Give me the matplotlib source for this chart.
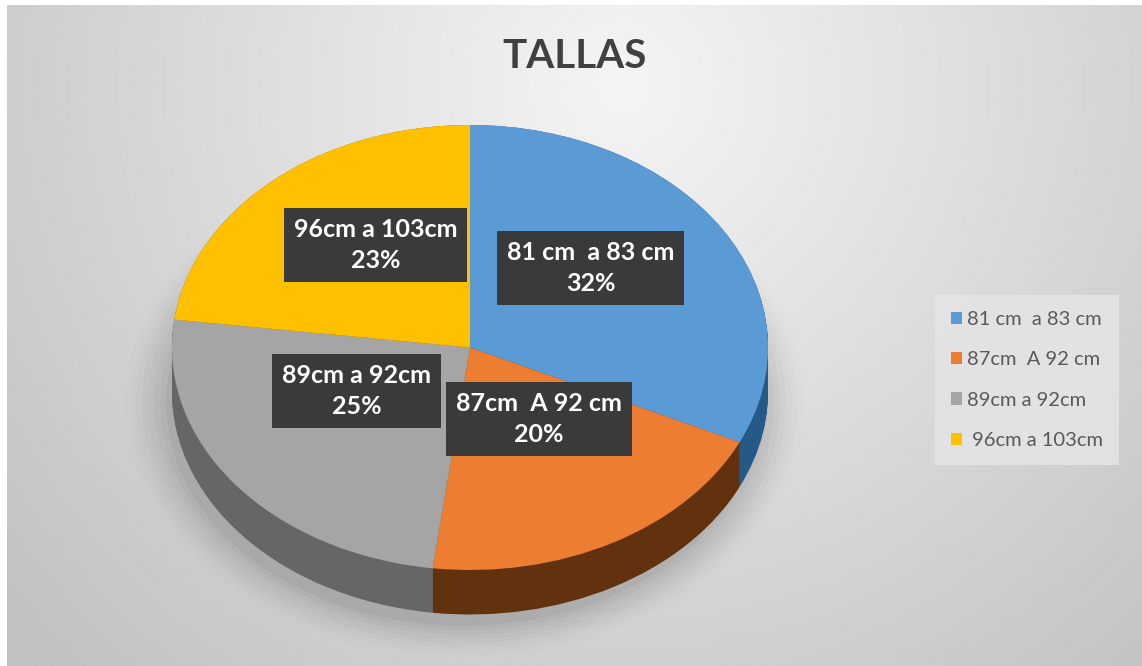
import numpy as np
import matplotlib
matplotlib.use("Agg")
import matplotlib.pyplot as plt

# ==========================================
# DATI
# ==========================================
etichette_box = ["81 cm  a 83 cm", "87cm  A 92 cm", "89cm a 92cm", "96cm a 103cm"]
legenda = ["81 cm  a 83 cm", "87cm  A 92 cm", "89cm a 92cm", " 96cm a 103cm"]
percentuali = [32, 20, 25, 23]
titolo = "TALLAS"

colori_top = ["#5b9bd5", "#ed7d31", "#a5a5a5", "#ffc000"]
colori_lato = ["#255a88", "#62320f", "#666666", "#8a6a00"]

plt.rcParams["font.family"] = ["Lato", "DejaVu Sans"]

W, H = 1142, 666
fig = plt.figure(figsize=(W / 100, H / 100), dpi=100, facecolor="white")

# ==========================================
# SFONDO A GRADIENTE RADIALE
# ==========================================
bg = fig.add_axes([7 / W, 0, 1 - 7 / W, 1 - 5 / H])
yy, xx = np.mgrid[0:H, 0:W]
dist = np.sqrt((xx - 620) ** 2 + (yy - 80) ** 2)
grad = 244 - 50 * np.clip(dist / 800, 0, 1)
bg.imshow(grad, cmap="gray", vmin=0, vmax=255, aspect="auto",
          extent=[0, W, H, 0], interpolation="bilinear")
bg.set_xlim(0, W)
bg.set_ylim(H, 0)
bg.axis("off")

# ==========================================
# TORTA 3D (ellisse + spessore)
# ==========================================
px_x0, px_w = 172, 596          # estensione orizzontale ellisse
px_top, b_px = 125, 222.5       # bordo alto e semiasse verticale
depth = 0.2                      # spessore in unita' del semiasse
y_min = -1 - depth - 0.15
ax_h_px = (1 - y_min) * b_px
ax = fig.add_axes([px_x0 / W, 1 - (px_top + ax_h_px) / H, px_w / W, ax_h_px / H])

# ombra morbida sotto la torta
for i, a in enumerate(np.linspace(0.035, 0.008, 8)):
    r = 1.0 + i * 0.02
    ax.pie([1], colors=["#000000"], radius=r, center=(-0.02, -depth - 0.05),
           wedgeprops=dict(alpha=a, linewidth=0))

# spessore: tante fette impilate
for t in np.linspace(depth, 0.0, 40):
    ax.pie(percentuali, colors=colori_lato, startangle=90, counterclock=False,
           center=(0, -t), wedgeprops=dict(linewidth=0))

wedges, _ = ax.pie(percentuali, colors=colori_top, startangle=90, counterclock=False,
                   center=(0, 0), wedgeprops=dict(linewidth=0))
ax.set_aspect("auto")
ax.set_xlim(-1, 1)
ax.set_ylim(y_min, 1)
ax.axis("off")

# etichette dati nei riquadri scuri
for w, lab, p in zip(wedges, etichette_box, percentuali):
    ang = np.deg2rad((w.theta1 + w.theta2) / 2)
    xl, yl = 0.48 * np.cos(ang), 0.48 * np.sin(ang) + 0.1
    ax.text(xl, yl, f"{lab}\n{p}%", ha="center", va="center", color="white",
            fontsize=18, fontweight="bold", linespacing=1.4,
            bbox=dict(boxstyle="square,pad=0.4", fc="#3a3a3a", ec="none"))

# ==========================================
# TITOLO E LEGENDA
# ==========================================
fig.text(575 / W, 1 - 56 / H, titolo, ha="center", va="center",
         fontsize=29, fontweight="bold", color="#404040")

leg = fig.legend(wedges, legenda, loc="center left",
                 bbox_to_anchor=(935 / W, 1 - 380 / H), frameon=True,
                 fontsize=14.5, labelspacing=1.15, handlelength=0.55,
                 handleheight=0.55, handletextpad=0.25, borderpad=0.8,
                 borderaxespad=0, labelcolor="#595959")
leg.get_frame().set_facecolor("#e4e4e4")
leg.get_frame().set_edgecolor("none")
leg.get_frame().set_alpha(0.9)
leg.get_frame().set_boxstyle("square", pad=0)

fig.savefig("out.png", dpi=100, facecolor="white")
